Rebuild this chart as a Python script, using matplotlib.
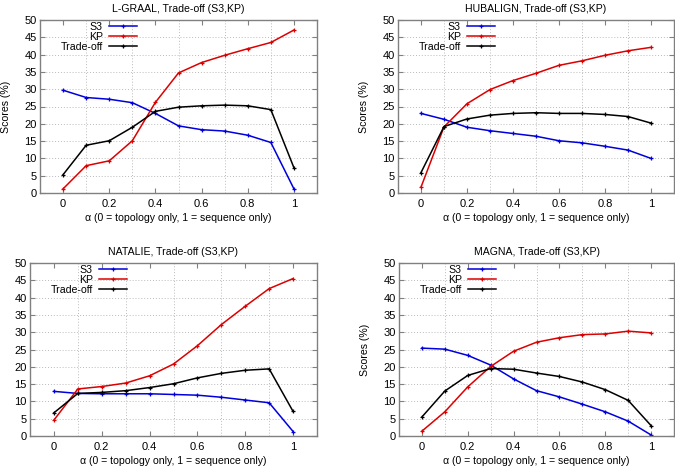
import numpy as np
import matplotlib
matplotlib.use("Agg")
import matplotlib.pyplot as plt

# -----------------------------
# Data
# -----------------------------
alpha = [0, 0.1, 0.2, 0.3, 0.4, 0.5, 0.6, 0.7, 0.8, 0.9, 1]

lgraal_s3 = [29.7, 27.6, 27.1, 26.1, 23.0, 19.4, 18.3, 17.9, 16.7, 14.6, 1.2]
lgraal_kp = [1.2, 7.9, 9.3, 15.1, 26.2, 34.7, 37.7, 39.8, 41.7, 43.5, 47.1]
lgraal_to = [5.3, 13.8, 15.1, 19.0, 23.6, 24.8, 25.2, 25.4, 25.2, 24.1, 7.3]

hubalign_s3 = [23.0, 21.3, 19.0, 18.0, 17.2, 16.4, 15.1, 14.5, 13.5, 12.4, 10.0]
hubalign_kp = [1.7, 19.1, 25.8, 29.9, 32.5, 34.6, 36.9, 38.2, 39.8, 41.1, 42.1]
hubalign_to = [5.9, 19.2, 21.4, 22.5, 23.0, 23.2, 23.0, 23.0, 22.7, 22.1, 20.2]

natalie_s3 = [12.9, 12.3, 12.2, 12.2, 12.2, 12.0, 11.8, 11.2, 10.4, 9.6, 1.3]
natalie_kp = [4.6, 13.6, 14.3, 15.3, 17.4, 20.8, 26.1, 32.2, 37.5, 42.6, 45.5]
natalie_to = [6.7, 12.3, 12.6, 13.1, 14.0, 15.1, 16.8, 18.1, 19.0, 19.4, 7.1]

magna_s3 = [25.4, 25.1, 23.3, 20.5, 16.5, 13.1, 11.3, 9.2, 7.0, 4.3, 0.3]
magna_kp = [1.4, 7.0, 14.2, 20.1, 24.5, 27.1, 28.4, 29.3, 29.5, 30.3, 29.8]
magna_to = [5.5, 13.0, 17.5, 19.5, 19.3, 18.2, 17.2, 15.6, 13.4, 10.3, 3.0]

titles = ["L-GRAAL", "HUBALIGN", "NATALIE", "MAGNA"]
series = [
    (lgraal_s3, lgraal_kp, lgraal_to),
    (hubalign_s3, hubalign_kp, hubalign_to),
    (natalie_s3, natalie_kp, natalie_to),
    (magna_s3, magna_kp, magna_to),
]

# -----------------------------
# Layout (pixel boxes: left, right, top, bottom)
# -----------------------------
W, H = 675, 468
boxes = [
    (40, 317, 20, 193),
    (398, 674, 20, 193),
    (30, 317, 263, 436),
    (399, 674, 263, 436),
]
show_ylabel = [True, True, False, True]
FS = 7.6

plt.rcParams["font.family"] = ["Liberation Sans", "DejaVu Sans"]
plt.rcParams["font.size"] = FS

fig = plt.figure(figsize=(W / 100, H / 100), dpi=100)
fig.patch.set_facecolor("white")

for i, (name, (s3, kp, to)) in enumerate(zip(titles, series)):
    l, r, t, b = boxes[i]
    w_px, h_px = r - l, b - t
    ax = fig.add_axes([l / W, 1 - b / H, w_px / W, h_px / H])

    kw = dict(lw=1.1, marker="+", ms=3.5, mew=0.9)
    ax.plot(alpha, s3, color="#0000dd", label="S3", **kw)
    ax.plot(alpha, kp, color="#dd0000", label="KP", **kw)
    ax.plot(alpha, to, color="black", label="Trade-off", **kw)

    ax.set_xlim(-0.1, 1.1)
    ax.set_ylim(0, 50)
    ax.set_xticks([0, 0.2, 0.4, 0.6, 0.8, 1])
    ax.set_xticklabels(["0", "0.2", "0.4", "0.6", "0.8", "1"])
    ax.set_xticks(np.arange(-0.1, 1.11, 0.1), minor=True)
    ax.set_yticks(range(0, 51, 5))

    ax.grid(True, which="major", axis="y", color="#bbbbbb", ls=(0, (1, 2)), lw=0.7)
    ax.grid(True, which="minor", axis="x", color="#bbbbbb", ls=(0, (1, 2)), lw=0.7)
    ax.set_axisbelow(True)
    ax.tick_params(which="major", direction="in", top=True, right=True,
                   color="#808080", length=3.5, labelsize=FS + 0.4)
    ax.tick_params(which="minor", length=0)
    ax.tick_params(axis="x", pad=4)
    ax.tick_params(axis="y", pad=2.5)
    for sp in ax.spines.values():
        sp.set_color("#808080")
        sp.set_linewidth(1.0)

    ax.set_title(f"{name}, Trade-off (S3,KP)", fontsize=FS, pad=6)
    ax.set_xlabel("α (0 = topology only, 1 = sequence only)", fontsize=FS)
    ax.xaxis.set_label_coords(0.5, -20 / h_px)
    if show_ylabel[i]:
        ax.set_ylabel("Scores (%)", fontsize=FS)
        ax.yaxis.set_label_coords(-29 / w_px, 0.5)

    leg = ax.legend(loc="upper left", bbox_to_anchor=(20.7 / w_px, 1 - 2 / h_px),
                    frameon=False, markerfirst=False, fontsize=FS,
                    handlelength=2.7, handletextpad=0.55, labelspacing=0.0,
                    borderpad=0, borderaxespad=0)
    for txt in leg.get_texts():
        txt.set_ha("right")
    leg._legend_box.align = "right"

fig.savefig("out.png", dpi=100, facecolor="white")
